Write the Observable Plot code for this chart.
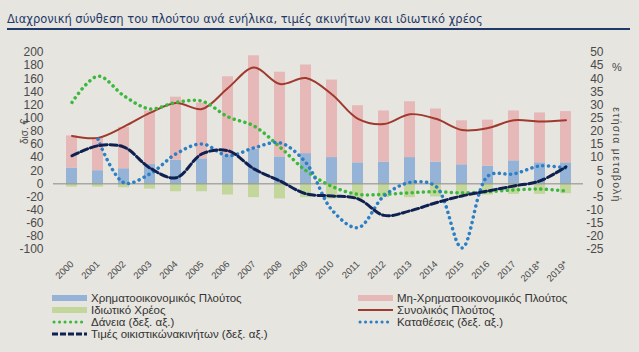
<!DOCTYPE html>
<html><head><meta charset="utf-8">
<script src="https://cdn.jsdelivr.net/npm/d3@7"></script>
<script src="https://cdn.jsdelivr.net/npm/@observablehq/plot@0.6"></script>
<style>
body{margin:0;background:#e6e5e0;width:639px;height:352px;overflow:hidden;position:relative;font-family:"Liberation Sans",Arial,sans-serif;}
#title{position:absolute;left:7px;top:12px;font-family:"DejaVu Sans",Verdana,sans-serif;font-size:11.5px;line-height:14px;color:#1f3a68;white-space:nowrap;}
#rule{position:absolute;left:7px;top:28px;width:623px;height:1.5px;background:#1f3a68;}
#chart{position:absolute;left:0;top:0;}
.leg{position:absolute;font-family:"Liberation Sans Narrow","Liberation Sans",Arial,sans-serif;font-size:11.5px;color:#333;display:flex;align-items:center;white-space:nowrap;height:12px;}
.leg svg{margin-right:3px;}
.axlab{position:absolute;font-size:10.5px;color:#4a4a4a;white-space:nowrap;transform-origin:center center;}
</style></head>
<body>
<div id="title">Διαχρονική σύνθεση του πλούτου ανά ενήλικα, τιμές ακινήτων και ιδιωτικό χρέος</div>
<div id="rule"></div>
<div id="chart"></div>
<div id="legend"></div>
<div class="axlab" id="lpct" style="left:612px;top:61px;font-size:11px;">%</div>
<div class="axlab" id="rlab" style="letter-spacing:1.3px;">ετήσια μεταβολή</div>
<script>
const years = ["2000","2001","2002","2003","2004","2005","2006","2007","2008","2009","2010","2011","2012","2013","2014","2015","2016","2017","2018*","2019*"];
// left axis (δισ. €)
const finWealth    = [24, 20, 23, 30, 36, 38, 43, 53, 41, 46, 40, 32, 33, 40, 33, 29, 27, 35, 32, 32];
const nonFinWealth = [49, 50, 63, 81, 96, 85, 120, 142, 129, 135, 118, 87, 78, 85, 81, 67, 70, 76, 76, 78];
const privateDebt  = [5, 5, 6, 8, 12, 12, 17, 21, 23, 21, 23, 23, 21, 21, 20, 18, 17, 16, 16, 15];
const totalWealth  = [73, 70, 87, 108, 123, 114, 146, 177, 152, 161, 136, 99, 91, 106, 99, 82, 85, 97, 95, 97];
// right axis (% annual change)
const loans        = [31, 41, 33.5, 28.5, 31, 31.5, 25.5, 22, 14, 5, -1, -4, -4, -3.4, -3, -3.4, -3, -2.3, -2, -2.7];
const deposits     = [null, 17, 0.4, 3.8, 11.4, 15.2, 10.7, 13.7, 15.6, 8, -10, -16.7, -4.6, 0.5, -1, -24.4, 3, 3.8, 6.8, 6];
const housePrices  = [10.7, 14.5, 14, 6, 2.3, 11.4, 12.6, 5.7, 1.1, -3.8, -4.6, -5.7, -12, -10.3, -7.2, -4.6, -2.7, -0.8, 1.1, 6.5];
const leftTicks  = [-100,-80,-60,-40,-20,0,20,40,60,80,100,120,140,160,180,200];
const rightTicks = [-25,-20,-15,-10,-5,0,5,10,15,20,25,30,35,40,45,50];
const RATIO = 4; // right-axis unit expressed in left-axis units

const colors = {fin:"#95b3d7", nonfin:"#e6b9b8", debt:"#c3d69b", total:"#a0392e", loans:"#3db83d", deposits:"#2c7fc3", house:"#0f2150"};

const rows = years.map((year,i)=>({year, fin:finWealth[i], nonfin:nonFinWealth[i], debt:privateDebt[i], total:totalWealth[i], loans:loans[i], deposits:deposits[i], house:housePrices[i]}));

const chart = Plot.plot({
  width:639, height:352, marginTop:52, marginBottom:103, marginLeft:53, marginRight:56,
  style:{background:"transparent", fontFamily:"Liberation Sans, Arial, sans-serif", fontSize:"11px", color:"#4a4a4a"},
  x:{domain:years, type:"band", paddingInner:0.58, paddingOuter:0.3},
  y:{domain:[-100,200]},
  marks:[
    Plot.barY(rows,{x:"year", y1:0, y2:"fin", fill:colors.fin}),
    Plot.barY(rows,{x:"year", y1:"fin", y2:d=>d.fin+d.nonfin, fill:colors.nonfin}),
    Plot.barY(rows,{x:"year", y1:0, y2:d=>-d.debt, fill:colors.debt}),
    Plot.ruleY([0],{stroke:"#8a8a8a", strokeWidth:1}),
    Plot.line(rows,{x:"year", y:"total", stroke:colors.total, strokeWidth:2, curve:"catmull-rom"}),
    Plot.line(rows,{x:"year", y:d=>d.loans*RATIO, stroke:colors.loans, strokeWidth:3.5, strokeDasharray:"0.1 5.5", strokeLinecap:"round", curve:"catmull-rom"}),
    Plot.line(rows.filter(d=>d.deposits!=null),{x:"year", y:d=>d.deposits*RATIO, stroke:colors.deposits, strokeWidth:3.5, strokeDasharray:"0.1 5.5", strokeLinecap:"round", curve:"catmull-rom"}),
    Plot.line(rows,{x:"year", y:d=>d.house*RATIO, stroke:colors.house, strokeWidth:3, strokeDasharray:"7 3", curve:"catmull-rom"}),
    Plot.axisX({tickRotate:-45, tickSize:0, tickPadding:13, fontSize:9.5, label:null}),
    Plot.axisY(leftTicks,{anchor:"left", tickSize:0, tickPadding:10, fontSize:12, tickFormat:d=>String(d), label:null}),
    Plot.text(rightTicks,{y:d=>d*RATIO, text:d=>String(d), frameAnchor:"right", dx:20, textAnchor:"end", fontSize:12, fill:"#4a4a4a"}),
    Plot.text(["δισ. €"],{frameAnchor:"left", dx:-29, dy:-7, rotate:-90, fontSize:10, fill:"#4a4a4a"})
  ]
});
document.getElementById("chart").appendChild(chart);

// right axis title: rotated 90°, centred at (617,155)
const rl = document.getElementById("rlab");
const w = rl.offsetWidth, h = rl.offsetHeight;
rl.style.left = (617 - w/2) + "px";
rl.style.top = (155 - h/2) + "px";
rl.style.transform = "rotate(90deg)";

// legend
const legendItems = [
  {label:"Χρηματοοικονομικός Πλούτος", kind:"bar", color:colors.fin, col:0, row:0},
  {label:"Μη-Χρηματοοικονομικός Πλούτος", kind:"bar", color:colors.nonfin, col:1, row:0},
  {label:"Ιδιωτικό Χρέος", kind:"bar", color:colors.debt, col:0, row:1},
  {label:"Συνολικός Πλούτος", kind:"line", color:colors.total, col:1, row:1},
  {label:"Δάνεια  (δεξ. αξ.)", kind:"dot", color:colors.loans, col:0, row:2},
  {label:"Καταθέσεις (δεξ. αξ.)", kind:"dot", color:colors.deposits, col:1, row:2},
  {label:"Τιμές οικιστικώνακινήτων  (δεξ. αξ.)", kind:"dash", color:colors.house, col:0, row:3}
];
const colX = [52, 358], rowY = [292, 304, 316, 328];
const leg = document.getElementById("legend");
for (const it of legendItems) {
  const div = document.createElement("div");
  div.className = "leg";
  div.style.left = colX[it.col]+"px";
  div.style.top = rowY[it.row]+"px";
  let sw;
  if (it.kind==="bar") sw = `<rect x="0" y="3" width="35" height="6" fill="${it.color}"/>`;
  else if (it.kind==="line") sw = `<line x1="0" x2="35" y1="6" y2="6" stroke="${it.color}" stroke-width="2"/>`;
  else if (it.kind==="dot") sw = `<line x1="2" x2="35" y1="6" y2="6" stroke="${it.color}" stroke-width="3" stroke-dasharray="0.1 5.4" stroke-linecap="round"/>`;
  else sw = `<line x1="0" x2="35" y1="6" y2="6" stroke="${it.color}" stroke-width="3" stroke-dasharray="6 2"/>`;
  div.innerHTML = `<svg width="36" height="12">${sw}</svg><span></span>`;
  div.querySelector("span").textContent = it.label;
  leg.appendChild(div);
}
</script>
</body></html>
